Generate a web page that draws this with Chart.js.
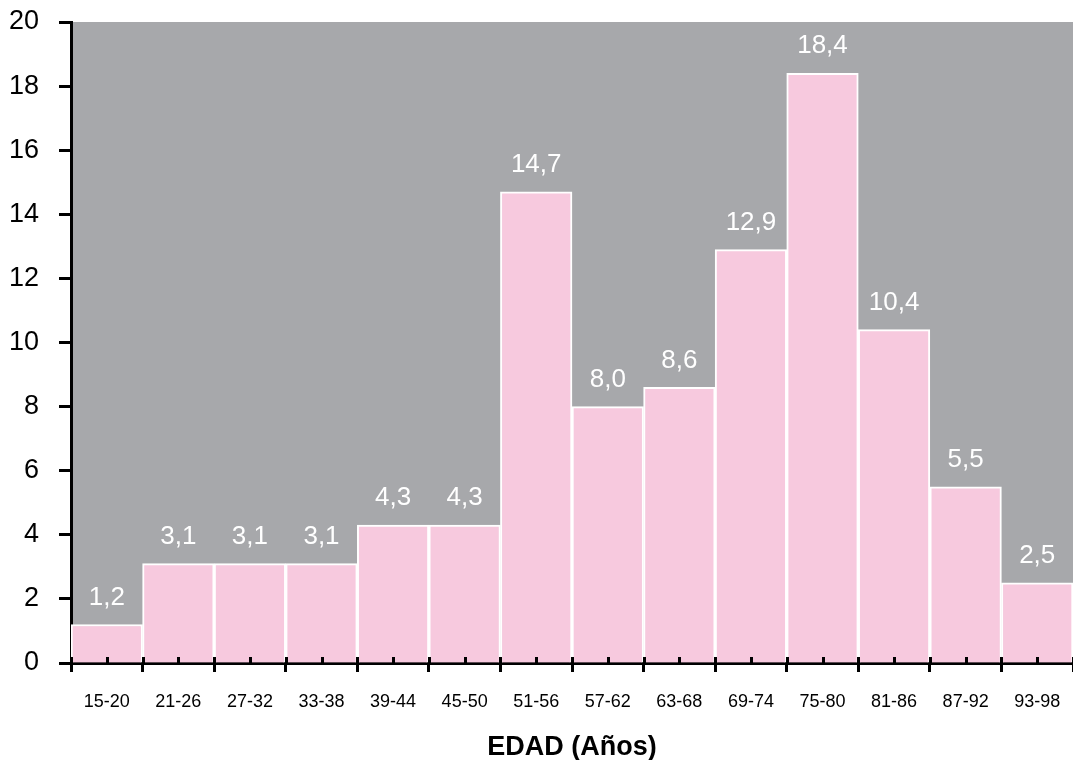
<!DOCTYPE html>
<html>
<head>
<meta charset="utf-8">
<script src="https://cdn.jsdelivr.net/npm/chart.js@4"></script>
<style>
  html, body { margin: 0; padding: 0; background: #fff; }
  #wrap { width: 1073px; height: 760px; }
</style>
</head>
<body>
<div id="wrap"><canvas id="edad"></canvas></div>
<script>
const ctx = document.getElementById('edad');

// age groups and percentage per group
let grupos = ['15-20', '21-26', '27-32', '33-38', '39-44', '45-50', '51-56', '57-62', '63-68', '69-74', '75-80', '81-86', '87-92', '93-98'];
let porcentaje = [1.2, 3.1, 3.1, 3.1, 4.3, 4.3, 14.7, 8.0, 8.6, 12.9, 18.4, 10.4, 5.5, 2.5];
let yTicks = [0, 2, 4, 6, 8, 10, 12, 14, 16, 18, 20];

const FONT = 'Liberation Sans, Arial, Helvetica, sans-serif';

// gray plot background
const fondo = {
    id: 'fondo',
    beforeDraw(chart) {
        const a = chart.chartArea;
        const c = chart.ctx;
        c.save();
        c.fillStyle = '#a7a8ab';
        c.fillRect(a.left, a.top, a.right - a.left, a.bottom - a.top);
        c.restore();
    }
};

// inward part of x ticks + minor ticks at bar centres
const marcas = {
    id: 'marcas',
    afterDraw(chart) {
        const x = chart.scales.x;
        const c = chart.ctx;
        const base = x.top;
        const paso = x.getPixelForValue(1) - x.getPixelForValue(0);
        c.save();
        c.strokeStyle = '#000';
        c.lineWidth = 3;
        c.beginPath();
        for (let i = 0; i <= grupos.length; i++) {
            const px = Math.round(x.getPixelForValue(0) - paso / 2 + i * paso) + 0.5;
            c.moveTo(px, base - 6);
            c.lineTo(px, base);
        }
        for (let i = 0; i < grupos.length; i++) {
            const px = Math.round(x.getPixelForValue(i)) + 0.5;
            c.moveTo(px, base - 6);
            c.lineTo(px, base);
        }
        c.stroke();
        c.restore();
    }
};

// white value labels above bars
const etiquetas = {
    id: 'etiquetas',
    afterDatasetsDraw(chart) {
        const c = chart.ctx;
        const meta = chart.getDatasetMeta(0);
        c.save();
        c.fillStyle = '#ffffff';
        c.font = '26px ' + FONT;
        c.textAlign = 'center';
        c.textBaseline = 'middle';
        meta.data.forEach((bar, i) => {
            c.fillText(porcentaje[i].toFixed(1).replace('.', ','), bar.x, bar.y - 27);
        });
        c.restore();
    }
};

new Chart(ctx, {
    type: 'bar',
    data: {
        labels: grupos,
        datasets: [{
            data: porcentaje,
            backgroundColor: '#f7c9de',
            borderColor: '#ffffff',
            borderWidth: 2,
            borderSkipped: 'bottom',
            categoryPercentage: 1,
            barPercentage: 1
        }]
    },
    options: {
        responsive: true,
        maintainAspectRatio: false,
        animation: false,
        layout: { padding: { top: 22, right: 0, bottom: 0, left: 0 } },
        scales: {
            x: {
                offset: true,
                afterFit(s) {
                    s.height = 97;
                    s.paddingLeft = 0;
                    s.paddingRight = 0;
                },
                grid: {
                    offset: true,
                    drawOnChartArea: false,
                    drawTicks: true,
                    tickLength: 9,
                    tickWidth: 3,
                    tickColor: '#000'
                },
                border: { color: '#000', width: 3 },
                ticks: {
                    color: '#000',
                    font: { family: FONT, size: 18 },
                    padding: 19,
                    maxRotation: 0
                },
                title: {
                    display: true,
                    text: 'EDAD (Años)',
                    color: '#000',
                    font: { family: FONT, size: 27, weight: 'bold', lineHeight: 0.9 },
                    padding: { top: 0, bottom: 0 }
                }
            },
            y: {
                min: 0,
                max: 20,
                afterFit(s) {
                    s.width = 71;
                    s.paddingTop = 0;
                    s.paddingBottom = 0;
                },
                afterBuildTicks(s) { s.ticks = yTicks.map(v => ({ value: v })); },
                grid: {
                    drawOnChartArea: false,
                    drawTicks: true,
                    tickLength: 12,
                    tickWidth: 3,
                    tickColor: '#000'
                },
                border: { color: '#000', width: 3 },
                ticks: {
                    color: '#000',
                    font: { family: FONT, size: 27 },
                    padding: 20
                }
            }
        },
        plugins: {
            legend: { display: false },
            tooltip: { enabled: false }
        }
    },
    plugins: [fondo, marcas, etiquetas]
});
</script>
</body>
</html>
